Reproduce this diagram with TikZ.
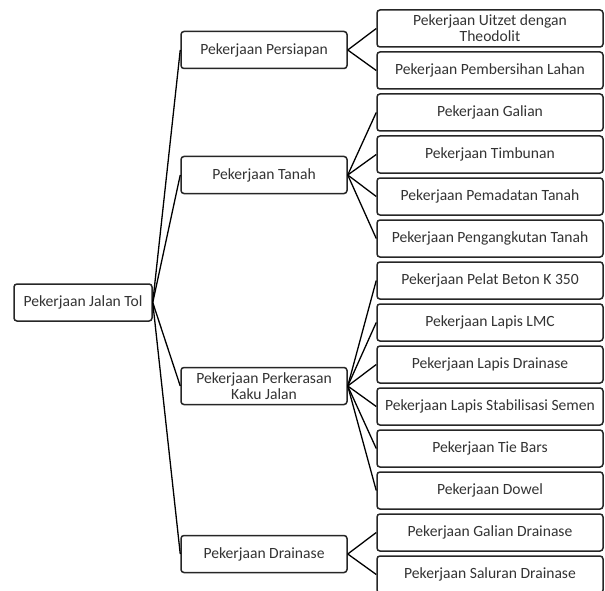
\documentclass[tikz,border=0pt]{standalone}
\usepackage{fontspec}
\setmainfont{Carlito}
\begin{document}
\begin{tikzpicture}[x=1pt,y=-1pt,
  box/.style={draw=black!85, line width=1.5pt, rounded corners=3pt, minimum height=37pt, inner sep=0pt, align=center, text=black!80, font=\fontsize{15.6}{16}\selectfont},
  rootbox/.style={box, minimum width=138pt},
  midbox/.style={box, minimum width=166pt},
  leafbox/.style={box, minimum width=226pt},
  link/.style={draw=black, line width=1.3pt}]
\useasboundingbox (0,0) rectangle (605,591);
\clip (0,0) rectangle (605,591);
\node[rootbox] (root) at (83,302.5) {Pekerjaan Jalan Tol};
\node[midbox] (m1) at (264,50) {Pekerjaan Persiapan};
\node[midbox] (m2) at (264,175) {Pekerjaan Tanah};
\node[midbox] (m3) at (264,386) {Pekerjaan Perkerasan\\Kaku Jalan};
\node[midbox] (m4) at (264,554) {Pekerjaan Drainase};
\node[leafbox] (l1) at (490,28.5) {Pekerjaan Uitzet dengan\\Theodolit};
\node[leafbox] (l2) at (490,70.5) {Pekerjaan Pembersihan Lahan};
\node[leafbox] (l3) at (490,112.5) {Pekerjaan Galian};
\node[leafbox] (l4) at (490,154.5) {Pekerjaan Timbunan};
\node[leafbox] (l5) at (490,196.5) {Pekerjaan Pemadatan Tanah};
\node[leafbox] (l6) at (490,238.5) {Pekerjaan Pengangkutan Tanah};
\node[leafbox] (l7) at (490,280.5) {Pekerjaan Pelat Beton K 350};
\node[leafbox] (l8) at (490,322.5) {Pekerjaan Lapis LMC};
\node[leafbox] (l9) at (490,364.5) {Pekerjaan Lapis Drainase};
\node[leafbox] (l10) at (490,406.5) {Pekerjaan Lapis Stabilisasi Semen};
\node[leafbox] (l11) at (490,448.5) {Pekerjaan Tie Bars};
\node[leafbox] (l12) at (490,490.5) {Pekerjaan Dowel};
\node[leafbox] (l13) at (490,532.5) {Pekerjaan Galian Drainase};
\node[leafbox] (l14) at (490,574.5) {Pekerjaan Saluran Drainase};
\foreach \m in {m1,m2,m3,m4} \draw[link] (root.east) -- (\m.west);
\foreach \l in {l1,l2} \draw[link] (m1.east) -- (\l.west);
\foreach \l in {l3,l4,l5,l6} \draw[link] (m2.east) -- (\l.west);
\foreach \l in {l7,l8,l9,l10,l11,l12} \draw[link] (m3.east) -- (\l.west);
\foreach \l in {l13,l14} \draw[link] (m4.east) -- (\l.west);
\end{tikzpicture}
\end{document}
